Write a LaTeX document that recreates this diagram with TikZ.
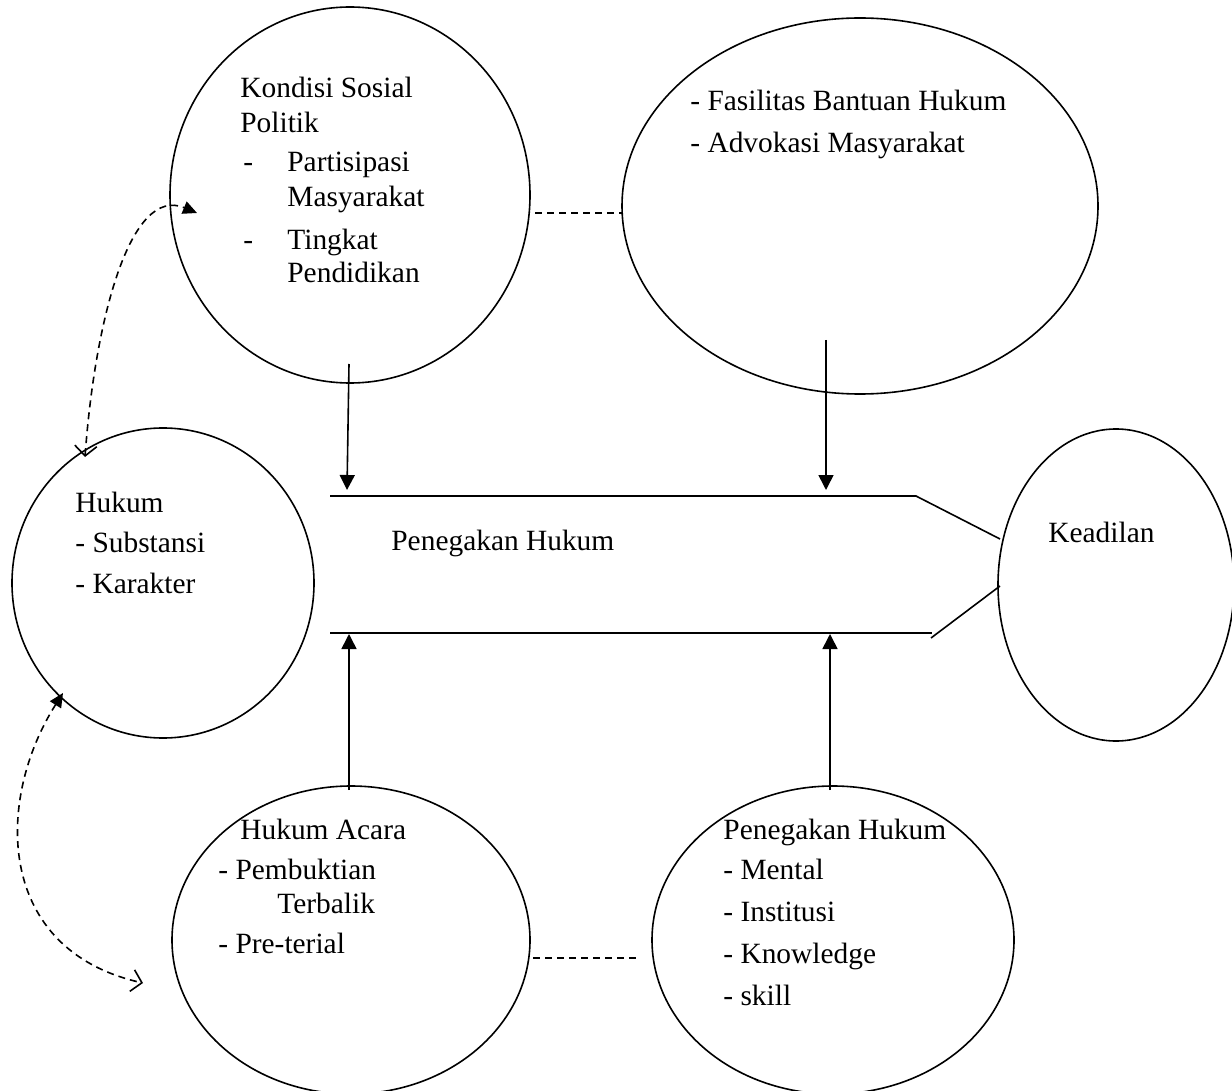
\documentclass[tikz,border=0pt]{standalone}
\usepackage{fontspec}
\setmainfont{Liberation Serif}
\usetikzlibrary{shapes.geometric,arrows.meta}
\begin{document}
\begin{tikzpicture}[x=0.5pt,y=-0.5pt,
  ell/.style={draw,ellipse,line width=0.8pt,inner sep=0pt},
  txt/.style={anchor=base west,inner sep=0pt,font=\fontsize{14.7}{17}\selectfont},
  ln/.style={line width=0.8pt},
  dsh/.style={line width=0.8pt,dash pattern=on 3.5pt off 2.5pt},
  fa/.style={-{Triangle[length=7.5pt,width=7.5pt]}},
  dbl/.style={{Straight Barb[length=5pt,width=11pt]}-{Triangle[length=7pt,width=6.5pt]}},
  dbr/.style={{Triangle[length=7pt,width=6.5pt]}-{Straight Barb[length=5pt,width=11pt]}}
]
\useasboundingbox (0,0) rectangle (1232,1091);

% ellipses
\node[ell,minimum width=180pt,minimum height=188pt] (kon) at (350,195) {};
\node[ell,minimum width=238pt,minimum height=188pt] (fas) at (860,206) {};
\node[ell,minimum width=151pt,minimum height=155pt] (huk) at (163,583) {};
\node[ell,minimum width=118pt,minimum height=156pt] (kea) at (1116,585) {};
\node[ell,minimum width=179pt,minimum height=154pt] (aca) at (351,940) {};
\node[ell,minimum width=181pt,minimum height=154pt] (peg) at (833,940) {};

% texts
\node[txt] (t1) at (240,98) {Kondisi Sosial};
\node[txt] (t2) at (240,133) {Politik};
\node[txt] (t3) at (243,172) {-};
\node[txt] (t4) at (287,172) {Partisipasi};
\node[txt] (t5) at (287,207) {Masyarakat};
\node[txt] (t6) at (243,250) {-};
\node[txt] (t7) at (287,250) {Tingkat};
\node[txt] (t8) at (287,283) {Pendidikan};

\node[txt] (f1) at (690,111) {- Fasilitas Bantuan Hukum};
\node[txt] (f2) at (690,153) {- Advokasi Masyarakat};

\node[txt] (h1) at (75,512) {Hukum};
\node[txt] (h2) at (75,552) {- Substansi};
\node[txt] (h3) at (75,593) {- Karakter};

\node[txt] (pc) at (391,550) {Penegakan Hukum};
\node[txt] (k1) at (1048,542) {Keadilan};

\node[txt] (a1) at (240,839) {Hukum Acara};
\node[txt] (a2) at (218,879) {- Pembuktian};
\node[txt] (a3) at (277,913) {Terbalik};
\node[txt] (a4) at (218,953) {- Pre-terial};

\node[txt] (p1) at (723,839) {Penegakan Hukum};
\node[txt] (p2) at (723,879) {- Mental};
\node[txt] (p3) at (723,921) {- Institusi};
\node[txt] (p4) at (723,963) {- Knowledge};
\node[txt] (p5) at (723,1005) {- skill};

% channel
\coordinate (tl) at (330,496);
\coordinate (tr) at (916,496);
\coordinate (tk) at (1000,539);
\coordinate (bl) at (330,633);
\coordinate (br) at (932,633);
\coordinate (bd) at (931,638);
\coordinate (bk) at (1000,586);
\draw[ln] (tl) -- (tr) -- (tk);
\draw[ln] (bl) -- (br);
\draw[ln] (bd) -- (bk);

% vertical arrows
\coordinate (v1s) at (349,364);
\coordinate (v1e) at (347,490);
\coordinate (v2s) at (826,340);
\coordinate (v2e) at (826,490);
\coordinate (v3s) at (349,790);
\coordinate (v3e) at (349,634);
\coordinate (v4s) at (830,790);
\coordinate (v4e) at (830,634);
\draw[ln,fa] (v1s) -- (v1e);
\draw[ln,fa] (v2s) -- (v2e);
\draw[ln,fa] (v3s) -- (v3e);
\draw[ln,fa] (v4s) -- (v4e);

% dashed links
\coordinate (d1a) at (535,213);
\coordinate (d1b) at (622,213);
\coordinate (d2a) at (533,958);
\coordinate (d2b) at (640,958);
\draw[dsh] (d1a) -- (d1b);
\draw[dsh] (d2a) -- (d2b);

% curved dashed arrows
\coordinate (c1s) at (85,457);
\coordinate (c1e) at (197,213);
\draw[dsh,dbl] (c1s) .. controls (95,320) and (130,185) .. (c1e);
\coordinate (c2s) at (63,693);
\coordinate (c2e) at (143,983);
\draw[dsh,dbr] (c2s) .. controls (-5,800) and (-5,950) .. (c2e);
\end{tikzpicture}
\end{document}
